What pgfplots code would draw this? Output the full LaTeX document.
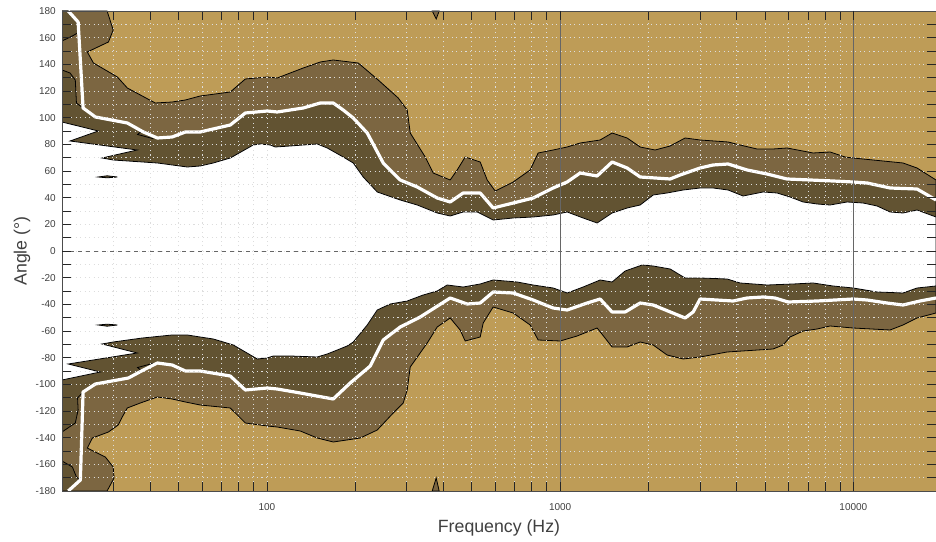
\documentclass[border=0pt]{standalone}
\usepackage{fontspec}
\setmainfont{Liberation Sans}
\usepackage{pgfplots}
\pgfplotsset{compat=1.18}

\definecolor{tanc}{HTML}{BE9C57}
\definecolor{medc}{HTML}{7C6641}
\definecolor{darkc}{HTML}{625332}
\definecolor{gridc}{HTML}{DDDDDD}

\begin{document}
\begin{tikzpicture}
\begin{axis}[
  scale only axis, width=655.5pt, height=360pt,
  xmode=log, xmin=20, xmax=19140, ymin=-180, ymax=180,
  xtick={100,1000,10000}, xticklabels={100,1000,10000},
  minor xtick={20,30,40,50,60,70,80,90,200,300,400,500,600,700,800,900,2000,3000,4000,5000,6000,7000,8000,9000},
  ytick={-180,-160,...,180}, minor ytick={-170,-150,...,170},
  /pgf/number format/assume math mode=true,
  tick align=inside,
  major tick length=6.75pt, minor tick length=6.75pt,
  every tick/.style={line width=0.6pt, color=black!85},
  axis line style={line width=0.6pt, color=black!70},
  axis background/.style={fill=tanc},
  axis on top,
  xmajorgrids, xminorgrids, ymajorgrids, yminorgrids,
  grid style={color=gridc, line width=0.6pt, dash pattern=on 0.8pt off 2.6pt},
  extra x ticks={1000,10000}, extra x tick labels={},
  extra x tick style={grid=major, major grid style={solid, color=black!60, line width=0.95pt}},
  extra y ticks={0}, extra y tick labels={},
  extra y tick style={grid=major, major grid style={dashed, color=black!60, line width=0.6pt}},
  ticklabel style={font=\fontsize{7.5}{8}\selectfont, text=black!75},
  yticklabel style={anchor=east, inner sep=0pt, xshift=-4.5pt},
  xticklabel style={anchor=north, inner sep=0pt, yshift=-9pt},
  xlabel={Frequency (Hz)}, ylabel={Angle (°)},
  label style={font=\fontsize{13.3}{15}\selectfont, text=black!75},
  xlabel style={at={(axis description cs:0.5,-0.0771)}, anchor=center},
  ylabel style={at={(axis description cs:-0.0458,0.5)}, anchor=center},
]
% -9 dB contour (tan / medium)
\addplot[fill=medc, draw=black, line width=0.6pt] coordinates {
(20,180)(28.5,180)(29.9,165.75)(28.8,156.75)(24.4,149.25)(25.6,141)(30.9,130.5)(33.4,122.25)
(41.6,111)(47.5,111.75)(52.7,113.25)(59.2,116.25)(75,119.25)(84.4,129)(100.2,130.5)(108.4,129.75)
(133,137.25)(152,141.75)(168.3,143.25)(204.8,141)(239.6,128.25)(280.4,114.75)(300.9,105.75)
(308.1,88.5)(346.6,70.5)(369,58.5)(421.6,53.25)(445.4,60.75)(474.3,70.5)(533.7,66.75)(563.9,53.25)
(600.3,45)(691.5,51.75)(790.3,60.75)(841.3,73.5)(946.5,75.75)(1056.5,78)(1170,81)(1369,83.25)
(1504,88.5)(1692,84.75)(1875,78)(2108,75.75)(2372,78.75)(2668,84.75)(3002,83.25)(3739,81.75)
(4108,79.5)(4695,76.5)(5323,76.5)(5942,77.25)(7292,73.5)(8330,74.25)(9370,70.5)(9977,69.75)
(12630,67.5)(14770,66)(16490,62.25)(19140,53.25)
(19140,-46.5)(16490,-50.25)(14770,-55.5)(13340,-59.25)(9977,-57.75)(8330,-56.25)(7525,-58.5)
(6741,-60)(6084,-64.5)(5760,-70.5)(5323,-73.5)(3710,-75.75)(3002,-79.5)(2627,-81)(2316,-78)
(2076,-70.5)(1875,-68.25)(1692,-72)(1504,-72)(1337,-57.75)(1143,-63.75)(1000,-67.5)(841.3,-66.75)
(790.3,-55.5)(691.5,-46.5)(590.9,-42)(546.5,-54)(533.7,-64.5)(474.3,-67.5)(456,-59.25)(421.6,-50.25)
(380.8,-57)(352.1,-69)(308.1,-87)(300.9,-104.25)(291.6,-114)(269.6,-121.5)(237.8,-134.25)
(208.1,-140.25)(168.3,-143.25)(148.4,-140.25)(129.9,-135)(108.4,-132)(100.2,-131.25)(84.4,-129)
(75,-117.75)(59.2,-115.5)(52.7,-113.25)(47.5,-111)(42.3,-109.5)(37,-114)(33.4,-117.75)(32.1,-124.5)
(31.1,-130.5)(28.8,-135.75)(25.4,-140.25)(24.4,-147.75)(28.1,-154.5)(29.9,-162)(30.1,-170.25)
(28.5,-180)(20,-180)
} -- cycle;
% -6 dB contour (medium / dark)
\addplot[fill=darkc, draw=black, line width=0.6pt] coordinates {
(20,135.75)(21.3,133.5)(22.2,128.25)(22.4,111)(23.6,107.25)(26,100.5)(33.4,96)(37.9,89.25)
(42.3,84.75)(47.5,85.5)(52.7,89.25)(59.2,89.25)(75,94.5)(84.4,103.5)(100.2,105)(108.4,104.25)
(133,107.25)(152,111)(168.3,111)(182,105.75)(197,99.75)(219.8,88.5)(249.2,66)(284.8,53.25)
(325.5,48)(380.8,39.75)(421.6,36.75)(466.9,43.5)(533.7,43.5)(590.9,32.25)(691.5,36)(809.1,39.75)
(946.5,47.25)(1056.5,51.75)(1170,58.5)(1337,56.25)(1504,66.75)(1692,62.25)(1875,55.5)(2372,54)
(2566,57)(3002,62.25)(3323,64.5)(3739,65.25)(4341,60.75)(5078,57.75)(5942,54)(8527,52.5)
(9977,51.75)(11140,51)(13340,47.25)(16490,46.5)(19140,38.25)
(19140,-35.25)(16880,-37.5)(14770,-40.5)(13030,-39)(11140,-36.75)(9977,-36)(7525,-37.5)
(5989,-38.25)(5408,-35.25)(4922,-34.5)(4341,-35.25)(3889,-37.5)(3002,-36)(2842,-45.75)
(2668,-50.25)(2076,-40.5)(1875,-39)(1666,-45.75)(1504,-45.75)(1369,-36)(1236,-39)(1056.5,-44.25)
(946.5,-42.75)(809.1,-36.75)(691.5,-31.5)(590.9,-30.75)(533.7,-39)(481.8,-39.75)(421.6,-35.25)
(333.2,-49.5)(284.8,-57)(249.2,-66.75)(225.1,-86.25)(192.3,-99)(168.3,-111)(129.9,-106.5)
(108.4,-103.5)(100.2,-102.75)(84.4,-104.25)(75,-93.75)(59.2,-90)(52.7,-90)(47.5,-85.5)(42.3,-84)
(37.9,-89.25)(33.7,-95.25)(26,-99.75)(23.6,-105.75)(22.6,-110.25)(22.7,-119.25)(22.2,-129)
(20,-135.75)
} -- cycle;
\addplot[fill=darkc, draw=black, line width=0.6pt] coordinates {
(20,180)(21,180)(22.7,171.75)(22.9,164.25)(21.7,161.25)(20,157.5)} -- cycle;
\addplot[fill=darkc, draw=black, line width=0.6pt] coordinates {
(20,-180)(21,-180)(23.1,-171.75)(22.4,-169.5)(21.7,-162)(20,-157.5)} -- cycle;
% -3 dB contour (dark / white)
\addplot[fill=white, draw=black, line width=0.6pt] coordinates {
(20,96.75)(26.6,90)(21.3,82.5)(36.1,75.75)(27.4,69.75)(29.9,68.25)(42.3,66)(53.5,63)(59.2,63.75)
(65.6,66)(75,69.75)(89.8,79.5)(94.9,80.25)(102.6,79.5)(106.7,78)(120.1,78.75)(133,79.5)
(148.4,80.25)(160.6,77.25)(182,70.5)(197,66)(213,55.5)(237.8,44.25)(284.8,38.25)(325.5,34.5)
(380.8,28.5)(421.6,26.25)(466.9,29.25)(521.3,29.25)(590.9,23.25)(691.5,24.75)(809.1,25.5)
(946.5,27)(1056.5,29.25)(1198,24.75)(1337,21)(1504,28.5)(1692,32.25)(1875,34.5)(2076,42)
(2316,43.5)(2627,45.75)(3002,47.25)(3323,47.25)(3739,45.75)(4206,41.25)(4922,44.25)(5494,43.5)
(6084,40.5)(6741,36.75)(7525,35.25)(8330,34.5)(9518,36.75)(10790,36)(12050,33.75)(13340,29.25)
(14770,28.5)(16490,30.75)(19140,25.5)
(19140,-26.25)(16490,-27.75)(14770,-31.5)(12050,-30.75)(9977,-27.75)(8527,-26.25)(7292,-24)
(6228,-24.75)(5078,-25.5)(4108,-24)(3710,-21)(3002,-20.25)(2668,-20.25)(2372,-13.5)(2076,-11.25)
(1904,-10.5)(1666,-15)(1504,-23.25)(1369,-21.75)(1198,-27)(1056.5,-31.5)(946.5,-27.75)
(809.1,-25.5)(713.5,-23.25)(590.9,-21.75)(533.7,-24.75)(466.9,-27)(411.8,-25.5)(380.8,-30)
(341.2,-33)(300.9,-37.5)(263.3,-39.75)(237.8,-44.25)(219.8,-55.5)(197,-68.25)(187.8,-71.25)
(160.6,-77.25)(148.4,-79.5)(120.1,-78.75)(105.1,-78.75)(100.2,-80.25)(92.7,-81)(76.8,-70.5)
(65.6,-66)(59.2,-64.5)(53.5,-63)(47.5,-63)(37.6,-65.25)(29.9,-68.25)(27.4,-69.75)(36.1,-76.5)
(21,-84.75)(27,-90.75)(20,-96.75)
} -- cycle;
% small islands
\addplot[fill=darkc, draw=black, line width=0.6pt] coordinates {
(26.6,55.5)(28.5,56.4)(30.9,55.5)(28.5,54.9)} -- cycle;
\addplot[fill=darkc, draw=black, line width=0.6pt] coordinates {
(26.6,-55.5)(28.5,-54.9)(30.9,-55.5)(28.5,-56.4)} -- cycle;
\addplot[fill=medc, draw=black, line width=0.6pt] coordinates {
(366.2,180)(377.8,174)(386.8,180)} -- cycle;
\addplot[fill=medc, draw=black, line width=0.6pt] coordinates {
(366.2,-180)(377.8,-170.25)(386.8,-180)} -- cycle;
\addplot[black, line width=0.6pt] coordinates {(37.6,90.3)(36.2,87.4)(41,84.2)};
\addplot[black, line width=0.6pt] coordinates {(37.6,-90.3)(36.2,-87.4)(41,-84.2)};
% -6 dB beamwidth lines
\addplot[white, line width=2.4pt, line join=round] coordinates {
(21,180)(22.7,171.75)(23.6,107.25)(26,100.5)(33.4,96)(37.9,89.25)(42.3,84.75)(47.5,85.5)
(52.7,89.25)(59.2,89.25)(75,94.5)(84.4,103.5)(100.2,105)(108.4,104.25)(133,107.25)(152,111)
(168.3,111)(182,105.75)(197,99.75)(219.8,88.5)(249.2,66)(284.8,53.25)(325.5,48)(380.8,39.75)
(421.6,36.75)(466.9,43.5)(533.7,43.5)(590.9,32.25)(691.5,36)(809.1,39.75)(946.5,47.25)
(1056.5,51.75)(1170,58.5)(1337,56.25)(1504,66.75)(1692,62.25)(1875,55.5)(2372,54)(2566,57)
(3002,62.25)(3323,64.5)(3739,65.25)(4341,60.75)(5078,57.75)(5942,54)(8527,52.5)(9977,51.75)
(11140,51)(13340,47.25)(16490,46.5)(19140,38.25)};
\addplot[white, line width=2.4pt, line join=round] coordinates {
(21,-180)(23.1,-171.75)(23.6,-105.75)(26,-99.75)(33.7,-95.25)(37.9,-89.25)(42.3,-84)(47.5,-85.5)
(52.7,-90)(59.2,-90)(75,-93.75)(84.4,-104.25)(100.2,-102.75)(108.4,-103.5)(129.9,-106.5)
(168.3,-111)(192.3,-99)(225.1,-86.25)(249.2,-66.75)(284.8,-57)(333.2,-49.5)(421.6,-35.25)
(481.8,-39.75)(533.7,-39)(590.9,-30.75)(691.5,-31.5)(809.1,-36.75)(946.5,-42.75)(1056.5,-44.25)
(1236,-39)(1369,-36)(1504,-45.75)(1666,-45.75)(1875,-39)(2076,-40.5)(2668,-50.25)(2842,-45.75)
(3002,-36)(3889,-37.5)(4341,-35.25)(4922,-34.5)(5408,-35.25)(5989,-38.25)(7525,-37.5)(9977,-36)
(11140,-36.75)(13030,-39)(14770,-40.5)(16880,-37.5)(19140,-35.25)};
\end{axis}
\pgfresetboundingbox
\path[use as bounding box] (-46.5pt,-38.25pt) rectangle (655.5pt,368.25pt);
\end{tikzpicture}
\end{document}
